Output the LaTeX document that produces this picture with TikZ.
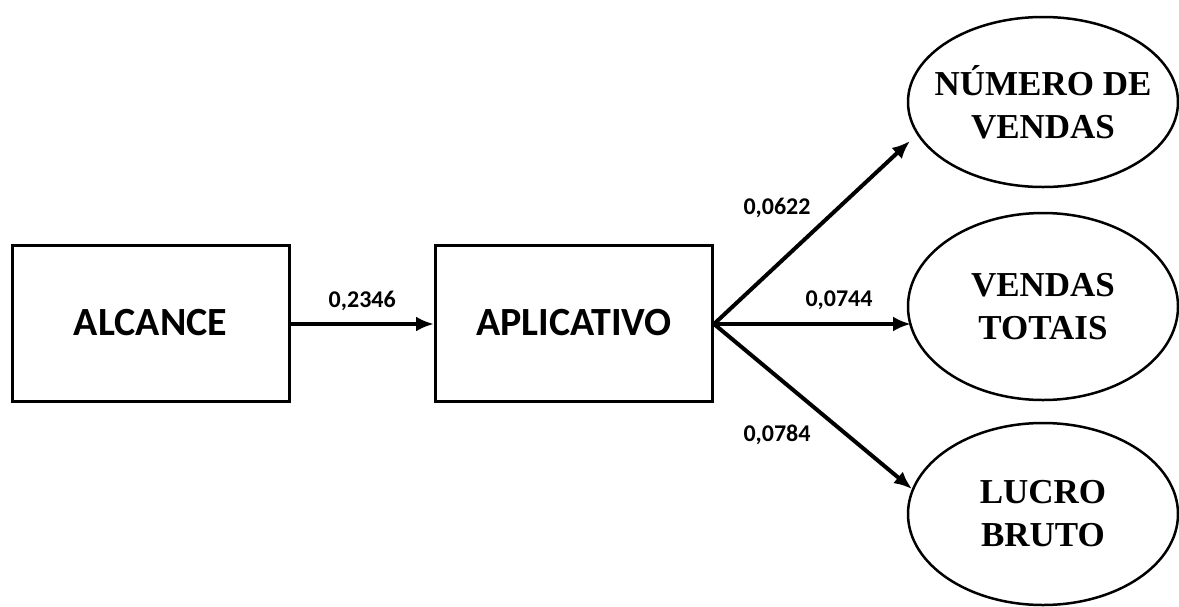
\documentclass[tikz,border=0pt]{standalone}
\usepackage{fontspec}
\setmainfont{Liberation Serif}
\newfontfamily\calib{Carlito}
\usetikzlibrary{shapes.geometric,arrows.meta}
\begin{document}
\begin{tikzpicture}[x=1pt, y=-1pt, line join=miter,
    caixa/.style={draw, line width=3pt, minimum width=277pt, minimum height=156pt, inner sep=0pt, font=\calib\bfseries\fontsize{40}{48}\selectfont},
    elipse/.style={draw, ellipse, line width=2.5pt, minimum width=270pt, inner sep=-25pt, align=center, font=\bfseries\fontsize{35}{43}\selectfont},
    peso/.style={font=\calib\bfseries\fontsize{24}{26}\selectfont, inner sep=0pt},
    seta/.style={line width=4pt, -{Latex[length=18pt,width=15pt]}}]
                \useasboundingbox (0,0) rectangle (1179,606);
                \node[caixa] (AL) at (150.5,323) {ALCANCE};
                \node[caixa] (AP) at (574,323) {APLICATIVO};
                \node[elipse, minimum height=170pt] (NV) at (1043,102) {NÚMERO DE\\VENDAS};
                \node[elipse, minimum height=187pt] (VT) at (1043,306.5) {VENDAS\\TOTAIS};
                \node[elipse, minimum height=182pt] (LB) at (1043,514) {LUCRO\\BRUTO};
                \coordinate (T1) at (910,141);
                \coordinate (T2) at (911,324);
                \coordinate (T3) at (912,489);

                \draw[seta] (AL.east |- 0,324) -- (AP.west |- 0,324) node[peso, midway, above=11pt] {0,2346};
                \draw[seta] (AP.east |- 0,324) -- (T1);
                \draw[seta] (AP.east |- 0,324) -- (T2);
                \draw[seta] (AP.east |- 0,324) -- (T3);
                \node[peso] (P1) at (777,208) {0,0622};
                \node[peso] (P2) at (839,300) {0,0744};
                \node[peso] (P3) at (777,435) {0,0784};
            \end{tikzpicture}
\end{document}
